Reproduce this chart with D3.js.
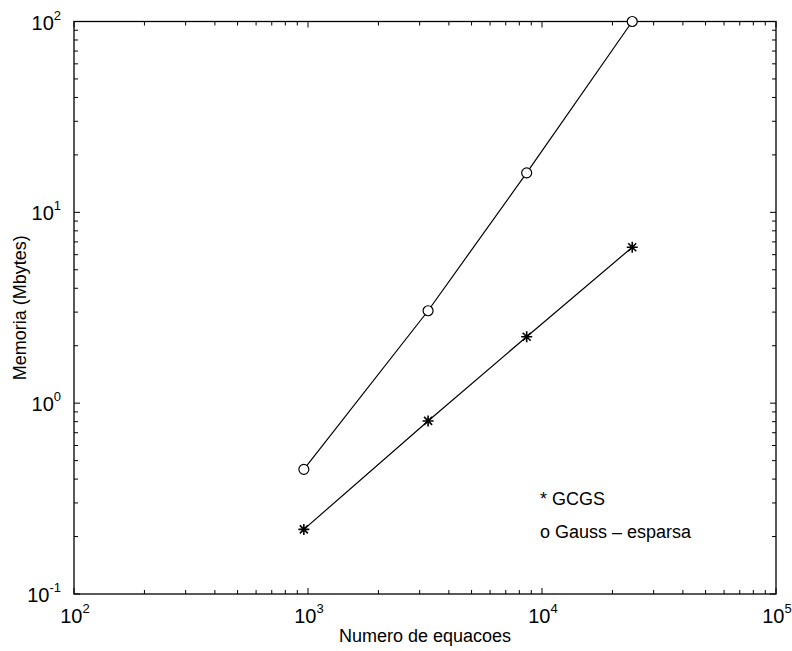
<!DOCTYPE html>
<html>
<head>
	<title>Memoria vs equacoes</title>
	<style type="text/css">
		body { margin: 0; background: #fff; }
		text { font-family: "Liberation Sans", Arial, sans-serif; fill: #000; }
		.frame { fill: none; stroke: #000; stroke-width: 1.3; }
		.tick { stroke: #000; stroke-width: 1; }
		.serie { fill: none; stroke: #000; stroke-width: 1.2; }
	</style>
</head>
<body>
	<div id="chart"></div>
	<script src="https://d3js.org/d3.v7.min.js"></script>
	<script type="text/javascript">
		// numero de equacoes
		var equacoes = [960, 3260, 8600, 24300];
		// memoria (Mbytes)
		var gcgs = [0.218, 0.807, 2.23, 6.56];
		var gauss = [0.45, 3.05, 16.1, 100];

		var xDecadas = [2, 3, 4, 5];
		var yDecadas = [-1, 0, 1, 2];
		var legenda = ["* GCGS", "o Gauss \u2013 esparsa"];

		var width = 792, height = 651;
		var mLeft = 74, mRight = 776, mTop = 21.5, mBottom = 594;

		var svg = d3.select('#chart')
			.append('svg')
			.attr('width', width)
			.attr('height', height);

		var x = d3.scaleLog().domain([1e2, 1e5]).range([mLeft, mRight]),
			y = d3.scaleLog().domain([1e-1, 1e2]).range([mBottom, mTop]);

		// minor ticks 2..9 for each decade
		function minors(decadas) {
			var out = [];
			decadas.slice(0, -1).forEach(function(d) {
				for (var k = 1; k <= 9; k++) out.push({v: k * Math.pow(10, d), major: k == 1});
			});
			out.push({v: Math.pow(10, decadas[decadas.length - 1]), major: true});
			return out;
		}

		var xt = minors(xDecadas), yt = minors(yDecadas);
		var g = svg.append('g');

		// ticks on all four sides, pointing in
		xt.forEach(function(t) {
			var len = t.major ? 6 : 4;
			g.append('line').attr('class', 'tick')
				.attr('x1', x(t.v)).attr('x2', x(t.v)).attr('y1', mBottom).attr('y2', mBottom - len);
			g.append('line').attr('class', 'tick')
				.attr('x1', x(t.v)).attr('x2', x(t.v)).attr('y1', mTop).attr('y2', mTop + len);
		});
		yt.forEach(function(t) {
			var len = t.major ? 6 : 4;
			g.append('line').attr('class', 'tick')
				.attr('y1', y(t.v)).attr('y2', y(t.v)).attr('x1', mLeft).attr('x2', mLeft + len);
			g.append('line').attr('class', 'tick')
				.attr('y1', y(t.v)).attr('y2', y(t.v)).attr('x1', mRight).attr('x2', mRight - len);
		});

		g.append('rect').attr('class', 'frame')
			.attr('x', mLeft).attr('y', mTop)
			.attr('width', mRight - mLeft).attr('height', mBottom - mTop);

		// tick labels 10^n
		function potencia(sel, n) {
			sel.append('tspan').text('10').attr('font-size', 20);
			sel.append('tspan').text(n).attr('font-size', 13).attr('dy', -10);
		}

		xDecadas.forEach(function(d) {
			var t = svg.append('text')
				.attr('x', x(Math.pow(10, d)) + 1)
				.attr('y', 623)
				.attr('text-anchor', 'middle');
			potencia(t, d);
		});
		yDecadas.forEach(function(d) {
			var t = svg.append('text')
				.attr('x', 61)
				.attr('y', y(Math.pow(10, d)) + 8)
				.attr('text-anchor', 'end');
			potencia(t, d);
		});

		// series
		var line = d3.line()
			.x(function(d) { return x(d[0]); })
			.y(function(d) { return y(d[1]); });

		var gaussPts = d3.zip(equacoes, gauss),
			gcgsPts = d3.zip(equacoes, gcgs);

		svg.append('path').attr('class', 'serie').attr('d', line(gaussPts));
		svg.append('path').attr('class', 'serie').attr('d', line(gcgsPts));

		svg.selectAll('circle.m')
			.data(gaussPts)
			.enter()
			.append('circle')
			.attr('class', 'm')
			.attr('cx', function(d) { return x(d[0]); })
			.attr('cy', function(d) { return y(d[1]); })
			.attr('r', 5)
			.attr('fill', '#fff')
			.attr('stroke', '#000')
			.attr('stroke-width', 1.2);

		var estrela = "M-5.5,0L5.5,0M0,-5.5L0,5.5M-4,-4L4,4M-4,4L4,-4";
		svg.selectAll('path.m')
			.data(gcgsPts)
			.enter()
			.append('path')
			.attr('class', 'm')
			.attr('transform', function(d) { return 'translate(' + x(d[0]) + ',' + y(d[1]) + ')'; })
			.attr('d', estrela)
			.attr('stroke', '#000')
			.attr('stroke-width', 1.6);

		// legend text
		legenda.forEach(function(s, i) {
			svg.append('text')
				.attr('x', 540)
				.attr('y', 505 + i * 33)
				.attr('font-size', 18)
				.text(s);
		});

		// axis titles
		svg.append('text')
			.attr('x', (mLeft + mRight) / 2)
			.attr('y', 642)
			.attr('text-anchor', 'middle')
			.attr('font-size', 18)
			.text('Numero de equacoes');

		svg.append('text')
			.attr('transform', 'translate(26,' + ((mTop + mBottom) / 2) + ') rotate(-90)')
			.attr('text-anchor', 'middle')
			.attr('font-size', 18)
			.text('Memoria (Mbytes)');
	</script>
</body>
</html>
